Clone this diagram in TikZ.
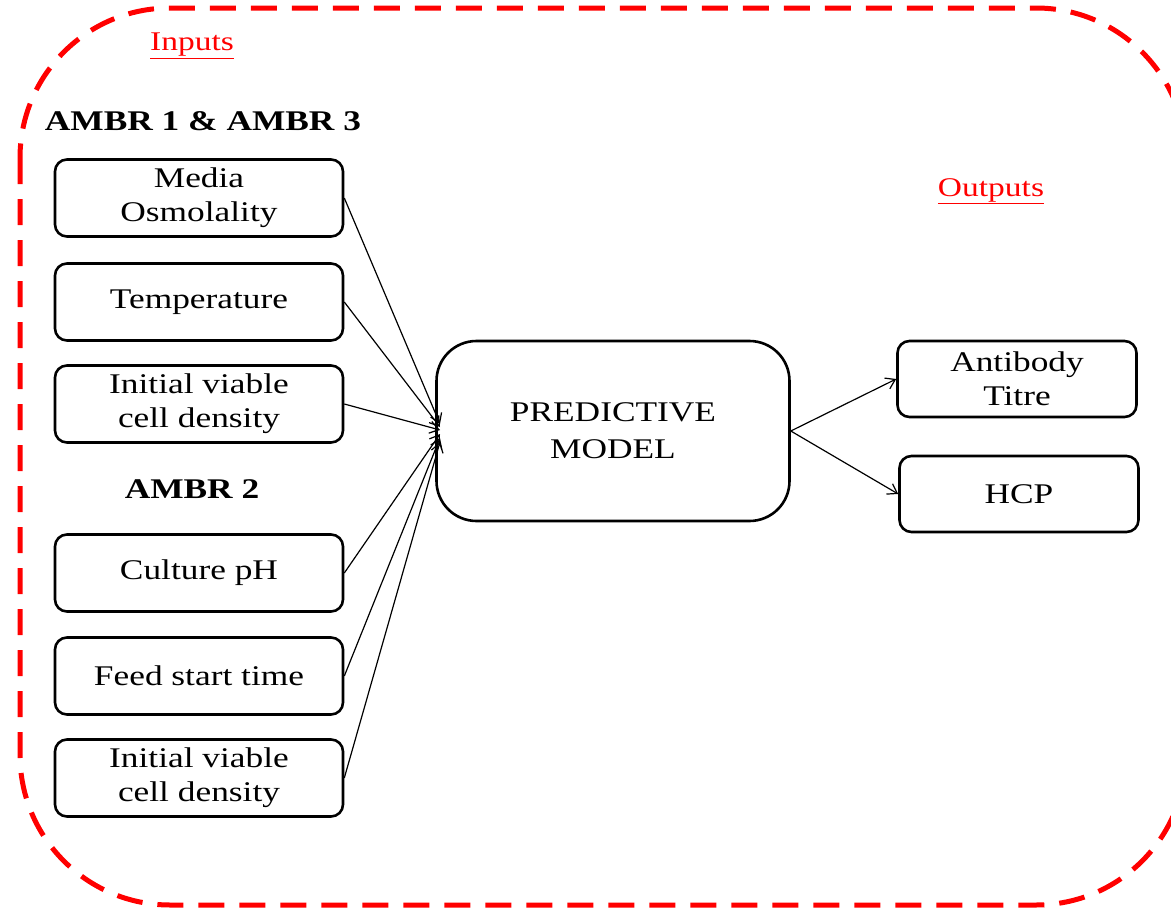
\documentclass[tikz,border=0pt]{standalone}
\usepackage{fontspec}
\setmainfont{Liberation Serif}[FakeStretch=1.24]
\usetikzlibrary{arrows.meta}
\begin{document}
\begin{tikzpicture}[x=1pt,y=-1pt,
  inbox/.style={draw, line width=2.6pt, rounded corners=12pt, minimum width=288pt, minimum height=77pt, align=center, font=\fontsize{28.5}{34}\selectfont, inner sep=0pt},
  outbox/.style={draw, line width=2.6pt, rounded corners=12pt, minimum width=239pt, minimum height=76pt, align=center, font=\fontsize{28.5}{34}\selectfont, inner sep=0pt},
  modelbox/.style={draw, line width=2.6pt, rounded corners=40pt, minimum width=353pt, minimum height=180pt, align=center, font=\fontsize{28.5}{37}\selectfont, inner sep=0pt},
  conn/.style={line width=1.2pt, -{Straight Barb[length=9pt,width=12pt]}},
  heading/.style={font=\bfseries\fontsize{28.5}{30}\selectfont},
  redlabel/.style={text=red, font=\fontsize{27}{28}\selectfont}
]
\useasboundingbox (0,0) rectangle (1171,910);
\fill[white] (0,0) rectangle (1171,910);
\draw[red, line width=5pt, dash pattern=on 26pt off 15pt, rounded corners=150pt] (20,8) rectangle (1186,905);

\node[redlabel] (inputs) at (192,46) {\underline{Inputs}};
\node[redlabel] (outputs) at (991,191) {\underline{Outputs}};
\node[heading] (h1) at (203,121) {AMBR 1 \& AMBR 3};
\node[heading] (h2) at (192,489) {AMBR 2};

\node[inbox] (b1) at (199,198) {Media\\Osmolality};
\node[inbox] (b2) at (199,302) {Temperature};
\node[inbox] (b3) at (199,404) {Initial viable\\cell density};
\node[inbox] (b4) at (199,573) {Culture pH};
\node[inbox] (b5) at (199,676) {Feed start time};
\node[inbox] (b6) at (199,778) {Initial viable\\cell density};

\node[modelbox] (m) at (613,431) {PREDICTIVE\\MODEL};
\node[outbox] (o1) at (1017,379) {Antibody\\Titre};
\node[outbox] (o2) at (1019,494) {HCP};

\coordinate (t1) at (440,424);
\coordinate (t2) at (440,427);
\coordinate (t3) at (440,430);
\coordinate (t4) at (440,434);
\coordinate (t5) at (440,438);
\coordinate (t6) at (440,442);
\draw[conn] (b1.east) -- (t1);
\draw[conn] (b2.east) -- (t2);
\draw[conn] (b3.east) -- (t3);
\draw[conn] (b4.east) -- (t4);
\draw[conn] (b5.east) -- (t5);
\draw[conn] (b6.east) -- (t6);

\draw[conn] (m.east) -- (o1.west);
\draw[conn] (m.east) -- (o2.west);
\end{tikzpicture}
\end{document}
